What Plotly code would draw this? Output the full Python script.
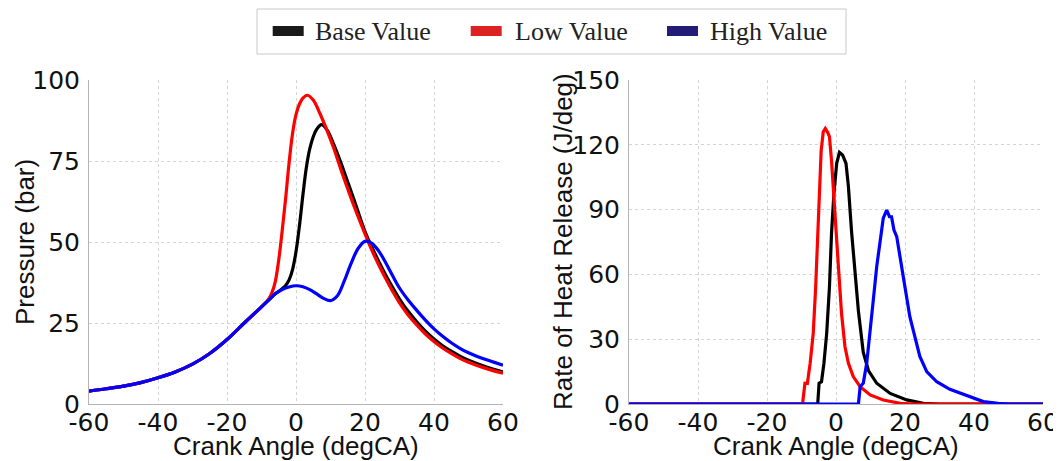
import plotly.graph_objects as go

# ---------------- data ----------------
# Pressure (left panel)
angle_high = [-60, -55, -50, -45, -40, -35, -30, -25, -20, -15, -10, -8, -6, -4, -2, 0, 2, 4, 6, 8, 10,
              12, 14, 16, 18, 20, 22, 24, 26, 28, 30, 32.5, 35, 37.5, 40, 42.5, 45, 47.5, 50, 55, 60]
p_high = [4.0, 4.7, 5.5, 6.6, 8.1, 9.9, 12.3, 15.6, 19.9, 25.0, 30.0, 32.0, 34.0, 35.3, 36.1, 36.5, 36.2,
          35.3, 34.0, 32.6, 31.9, 33.4, 38.0, 43.5, 48.0, 50.2, 49.6, 47.2, 43.6, 39.6, 35.8, 32.1, 28.9,
          25.9, 23.2, 20.9, 18.9, 17.2, 15.8, 13.7, 12.0]

angle_base = [-60, -55, -50, -45, -40, -35, -30, -25, -20, -15, -10, -8, -6, -5, -4, -3, -2, -1, 0, 1, 2, 3,
              4, 5, 6, 7.4, 9, 11, 13, 15, 17, 20, 22, 24, 26, 28, 30, 32.5, 35, 37.5, 40, 42.5, 45, 47.5,
              50, 55, 60]
p_base = [4.0, 4.7, 5.5, 6.6, 8.1, 9.9, 12.3, 15.6, 19.9, 25.0, 30.0, 32.0, 34.0, 34.8, 35.6, 36.6, 38.3,
          41.5, 47.0, 55.0, 64.5, 73.0, 78.8, 82.5, 84.8, 86.2, 84.6, 80.0, 74.5, 68.5, 62.5, 53.2, 48.4,
          44.0, 39.8, 36.0, 32.4, 28.6, 25.4, 22.5, 20.1, 18.0, 16.3, 14.8, 13.5, 11.5, 9.9]

angle_low = [-60, -55, -50, -45, -40, -35, -30, -25, -20, -15, -10, -8, -7, -6, -5, -4, -3, -2, -1, 0, 1,
             2, 3.3, 5, 7, 9, 11, 13, 15, 17, 20, 22, 24, 26, 28, 30, 32.5, 35, 37.5, 40, 42.5, 45, 47.5,
             50, 55, 60]
p_low = [4.0, 4.7, 5.5, 6.6, 8.1, 9.9, 12.3, 15.6, 19.9, 25.0, 30.0, 32.3, 34.3, 37.8, 44.5, 53.5, 63.5,
         74.5, 83.5, 89.3, 92.6, 94.4, 95.3, 93.8, 89.5, 84.4, 78.8, 72.4, 66.4, 60.6, 52.5, 47.4, 42.9,
         38.7, 34.8, 31.2, 27.5, 24.4, 21.6, 19.3, 17.3, 15.6, 14.1, 12.9, 11.0, 9.5]

# Rate of heat release (right panel)
hrr_angle_base = [-60, -5.3, -4.9, -4.2, -3.5, -2.7, -1.9, -1.3, -0.6, 0.2, 1.0, 1.9, 2.9, 3.6, 4.5, 5.5,
                  6.5, 7.9, 9.4, 11.8, 15.7, 20.5, 25.3, 30, 60]
hrr_base = [0, 0, 9.6, 10.3, 18.8, 32.7, 54, 79, 97.5, 111.4, 116.5, 115.3, 111.4, 100.6, 80, 63, 43, 24,
            15.5, 9.6, 4.9, 1.9, 0.3, 0, 0]

hrr_angle_low = [-60, -9.7, -9.0, -8.3, -7.5, -6.6, -5.9, -5.3, -4.8, -4.3, -3.7, -3.1, -2.5, -1.9, -1.3,
                 -0.6, 0.7, 1.6, 2.6, 3.6, 5.0, 7.0, 9.9, 13.7, 18.6, 23, 60]
hrr_low = [0, 0, 9.6, 9.5, 18.8, 32.7, 54, 78.7, 100.3, 117.3, 126, 127.5, 126, 123.8, 112.7, 94, 63.6,
           42, 26.5, 18.8, 12.7, 8, 4.2, 1.85, 0.3, 0, 0]

hrr_angle_high = [-60, 6.5, 7.0, 7.9, 8.9, 9.9, 10.8, 11.8, 12.75, 13.7, 14.7, 15.5, 16.1, 16.8, 17.6,
                  18.6, 20, 21.4, 22.9, 24.3, 26.3, 29.2, 33, 35, 38.8, 42.7, 47, 50, 60]
hrr_high = [0, 0, 8, 9.6, 18.8, 32.7, 48, 63.6, 76, 86, 89.8, 86.7, 86.7, 80.5, 77.5, 66.7, 54, 40.4, 31,
            22, 15, 10.3, 6.8, 5.6, 3.4, 1.1, 0.3, 0, 0]

series_names = ["Base Value", "Low Value", "High Value"]
line_colors = ["#000000", "#ff0000", "#0000ff"]
legend_colors = ["#1a1a1a", "#dd2222", "#231d78"]

x_ticks = [-60, -40, -20, 0, 20, 40, 60]
x_ticktext = ["-60", "-40", "-20", "0", "20", "40", "60"]
p_ticks = [0, 25, 50, 75, 100]
hrr_ticks = [0, 30, 60, 90, 120, 150]

# ---------------- figure ----------------
# the page body has an 8px margin, so the figure is drawn 8px smaller and
# reference pixel positions are shifted by that offset
OFF = 8
W, H = 1061 - OFF, 461 - OFF
fig = go.Figure()

LW = 3.2
pressure_sets = [(angle_base, p_base), (angle_low, p_low), (angle_high, p_high)]
hrr_sets = [(hrr_angle_base, hrr_base), (hrr_angle_low, hrr_low), (hrr_angle_high, hrr_high)]

for (xa, ya), c, n in zip(pressure_sets, line_colors, series_names):
    fig.add_trace(go.Scatter(x=xa, y=ya, mode="lines", xaxis="x", yaxis="y", name=n,
                             line=dict(color=c, width=LW, shape="spline", smoothing=1.0),
                             showlegend=False, hoverinfo="skip"))
for (xa, ya), c, n in zip(hrr_sets, line_colors, series_names):
    fig.add_trace(go.Scatter(x=xa, y=ya, mode="lines", xaxis="x2", yaxis="y2", name=n,
                             line=dict(color=c, width=LW), showlegend=False, hoverinfo="skip"))

def px(x):
    return (x - OFF) / W

def py(y):
    return (H - (y - OFF)) / H

tick_font = dict(family="DejaVu Sans", size=25, color="#111111")
title_font = dict(family="Liberation Sans, Arial", size=26, color="#111111")
common = dict(showgrid=True, gridcolor="#d4d4d4", griddash="dot", gridwidth=1, zeroline=False,
              showline=True, linecolor="#b4b4b4", linewidth=1, ticks="", tickfont=tick_font,
              automargin=False, ticklabeloverflow="allow")

fig.update_layout(
    width=W, height=H,
    margin=dict(l=0, r=0, t=0, b=0, autoexpand=False),
    paper_bgcolor="white", plot_bgcolor="white",
    showlegend=False,
    xaxis=dict(domain=[px(89), px(503)], range=[-60, 60], tickvals=x_ticks, ticktext=x_ticktext,
               anchor="y", ticklabelstandoff=-4, **common),
    yaxis=dict(domain=[py(404), py(80)], range=[0, 100], tickvals=p_ticks, anchor="x",
               ticklabelstandoff=3, **common),
    xaxis2=dict(domain=[px(629), px(1043)], range=[-60, 60], tickvals=x_ticks, ticktext=x_ticktext,
                anchor="y2", ticklabelstandoff=-4, **common),
    yaxis2=dict(domain=[py(404), py(80)], range=[0, 150], tickvals=hrr_ticks, anchor="x2",
                ticklabelstandoff=3, **common),
)

# axis titles
fig.add_annotation(text="Crank Angle (degCA)", x=px(296), y=py(446), xref="paper", yref="paper",
                   showarrow=False, font=title_font, xanchor="center", yanchor="middle")
fig.add_annotation(text="Crank Angle (degCA)", x=px(836), y=py(446), xref="paper", yref="paper",
                   showarrow=False, font=title_font, xanchor="center", yanchor="middle")
fig.add_annotation(text="Pressure (bar)", x=px(25), y=py(242), xref="paper", yref="paper",
                   showarrow=False, font=title_font, textangle=-90, xanchor="center", yanchor="middle")
fig.add_annotation(text="Rate of Heat Release (J/deg)", x=px(563), y=py(242), xref="paper", yref="paper",
                   showarrow=False, font=title_font, textangle=-90, xanchor="center", yanchor="middle")

# legend box (drawn by hand to get the thick colour bars of the original)
fig.add_shape(type="rect", xref="paper", yref="paper", x0=px(257), x1=px(846), y0=py(54), y1=py(9),
              line=dict(color="#c8c8c8", width=1), fillcolor="white", layer="above")
sample_x = [272.7, 470.7, 667]
text_x = [313, 513, 708]
for n, c, sx, tx in zip(series_names, legend_colors, sample_x, text_x):
    fig.add_shape(type="rect", xref="paper", yref="paper", x0=px(sx), x1=px(sx + 31), y0=py(36), y1=py(26),
                  line=dict(width=0), fillcolor=c, layer="above")
    fig.add_annotation(text=n, x=px(tx), y=py(31), xref="paper", yref="paper", showarrow=False,
                       xanchor="left", yanchor="middle",
                       font=dict(family="Liberation Serif, Times New Roman", size=26, color="#222222"))

fig.write_html("out.html")
